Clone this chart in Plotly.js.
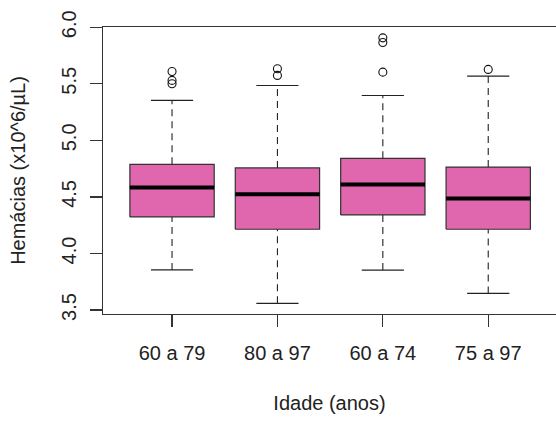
<!DOCTYPE html>
<html>
<head>
<meta charset="utf-8">
<script src="https://cdn.plot.ly/plotly-3.0.1.min.js"></script>
<style>html,body{margin:0;padding:0;background:#fff;}#chart{width:556px;height:421px;}</style>
</head>
<body>
<div id="chart"></div>
<script>
// Data
const categories = ["60 a 79", "80 a 97", "60 a 74", "75 a 97"];
const lowerWhisker = [3.855, 3.559, 3.853, 3.647];
const q1Values = [4.323, 4.214, 4.341, 4.214];
const medianValues = [4.583, 4.523, 4.609, 4.485];
const q3Values = [4.788, 4.756, 4.841, 4.764];
const upperWhisker = [5.353, 5.485, 5.397, 5.568];
const outliers = [
  [5.500, 5.530, 5.609],
  [5.574, 5.633],
  [5.603, 5.865, 5.906],
  [5.627]
];
const yTicks = [3.5, 4.0, 4.5, 5.0, 5.5, 6.0];
const yTickText = ["3.5", "4.0", "4.5", "5.0", "5.5", "6.0"];

const boxColor = "#E066AD";
const edge = "#333333";
const halfBox = 0.4, halfCap = 0.2;
const pos = categories.map((c, i) => i + 1);

const traces = [];
// boxes
const bx = [], by = [];
pos.forEach((p, i) => {
  bx.push(p - halfBox, p + halfBox, p + halfBox, p - halfBox, p - halfBox, null);
  by.push(q1Values[i], q1Values[i], q3Values[i], q3Values[i], q1Values[i], null);
});
traces.push({x: bx, y: by, type: "scatter", mode: "lines", fill: "toself", fillcolor: boxColor,
  line: {color: edge, width: 1.2}, hoverinfo: "skip", showlegend: false});
// whiskers dashed
const wx = [], wy = [];
pos.forEach((p, i) => {
  wx.push(p, p, null, p, p, null);
  wy.push(q3Values[i], upperWhisker[i], null, lowerWhisker[i], q1Values[i], null);
});
traces.push({x: wx, y: wy, type: "scatter", mode: "lines",
  line: {color: "#222", width: 1.1, dash: "7px,5px"}, hoverinfo: "skip", showlegend: false});
// caps
const cx = [], cy = [];
pos.forEach((p, i) => {
  cx.push(p - halfCap, p + halfCap, null, p - halfCap, p + halfCap, null);
  cy.push(upperWhisker[i], upperWhisker[i], null, lowerWhisker[i], lowerWhisker[i], null);
});
traces.push({x: cx, y: cy, type: "scatter", mode: "lines",
  line: {color: "#222", width: 1.1}, hoverinfo: "skip", showlegend: false});
// medians
const mx = [], my = [];
pos.forEach((p, i) => {
  mx.push(p - halfBox, p + halfBox, null);
  my.push(medianValues[i], medianValues[i], null);
});
traces.push({x: mx, y: my, type: "scatter", mode: "lines",
  line: {color: "#000", width: 4}, hoverinfo: "skip", showlegend: false});
// outliers
const ox = [], oy = [];
pos.forEach((p, i) => outliers[i].forEach(v => { ox.push(p); oy.push(v); }));
traces.push({x: ox, y: oy, type: "scatter", mode: "markers",
  marker: {symbol: "circle-open", size: 8, color: "#111", line: {width: 1.1}},
  hoverinfo: "skip", showlegend: false});

const font = {family: "Liberation Sans, Arial, sans-serif", size: 20, color: "#222"};
const layout = {
  width: 556, height: 421,
  margin: {l: 103, r: 0, t: 27, b: 107},
  paper_bgcolor: "#fff", plot_bgcolor: "#fff",
  font: font,
  showlegend: false,
  xaxis: {
    range: [0.345, 4.643], tickvals: pos, ticktext: categories,
    showgrid: false, zeroline: false, showline: true, mirror: true,
    linecolor: edge, linewidth: 1.2,
    ticks: "outside", ticklen: 12, tickcolor: edge, tickwidth: 1.2,
    ticklabelstandoff: 9,
    tickfont: font,
    title: {text: "Idade (anos)", font: font, standoff: 32}
  },
  yaxis: {
    range: [3.465, 6.002], tickvals: yTicks, ticktext: yTickText,
    showgrid: false, zeroline: false, showline: true, mirror: false,
    linecolor: edge, linewidth: 1.2,
    ticks: "outside", ticklen: 12, tickcolor: edge, tickwidth: 1.2,
    ticklabelstandoff: 6,
    tickangle: -90, tickfont: font,
    title: {text: "Hemácias (x10^6/µL)", font: font, standoff: 26}
  }
};
Plotly.newPlot("chart", traces, layout, {displayModeBar: false, staticPlot: true});
</script>
</body>
</html>
